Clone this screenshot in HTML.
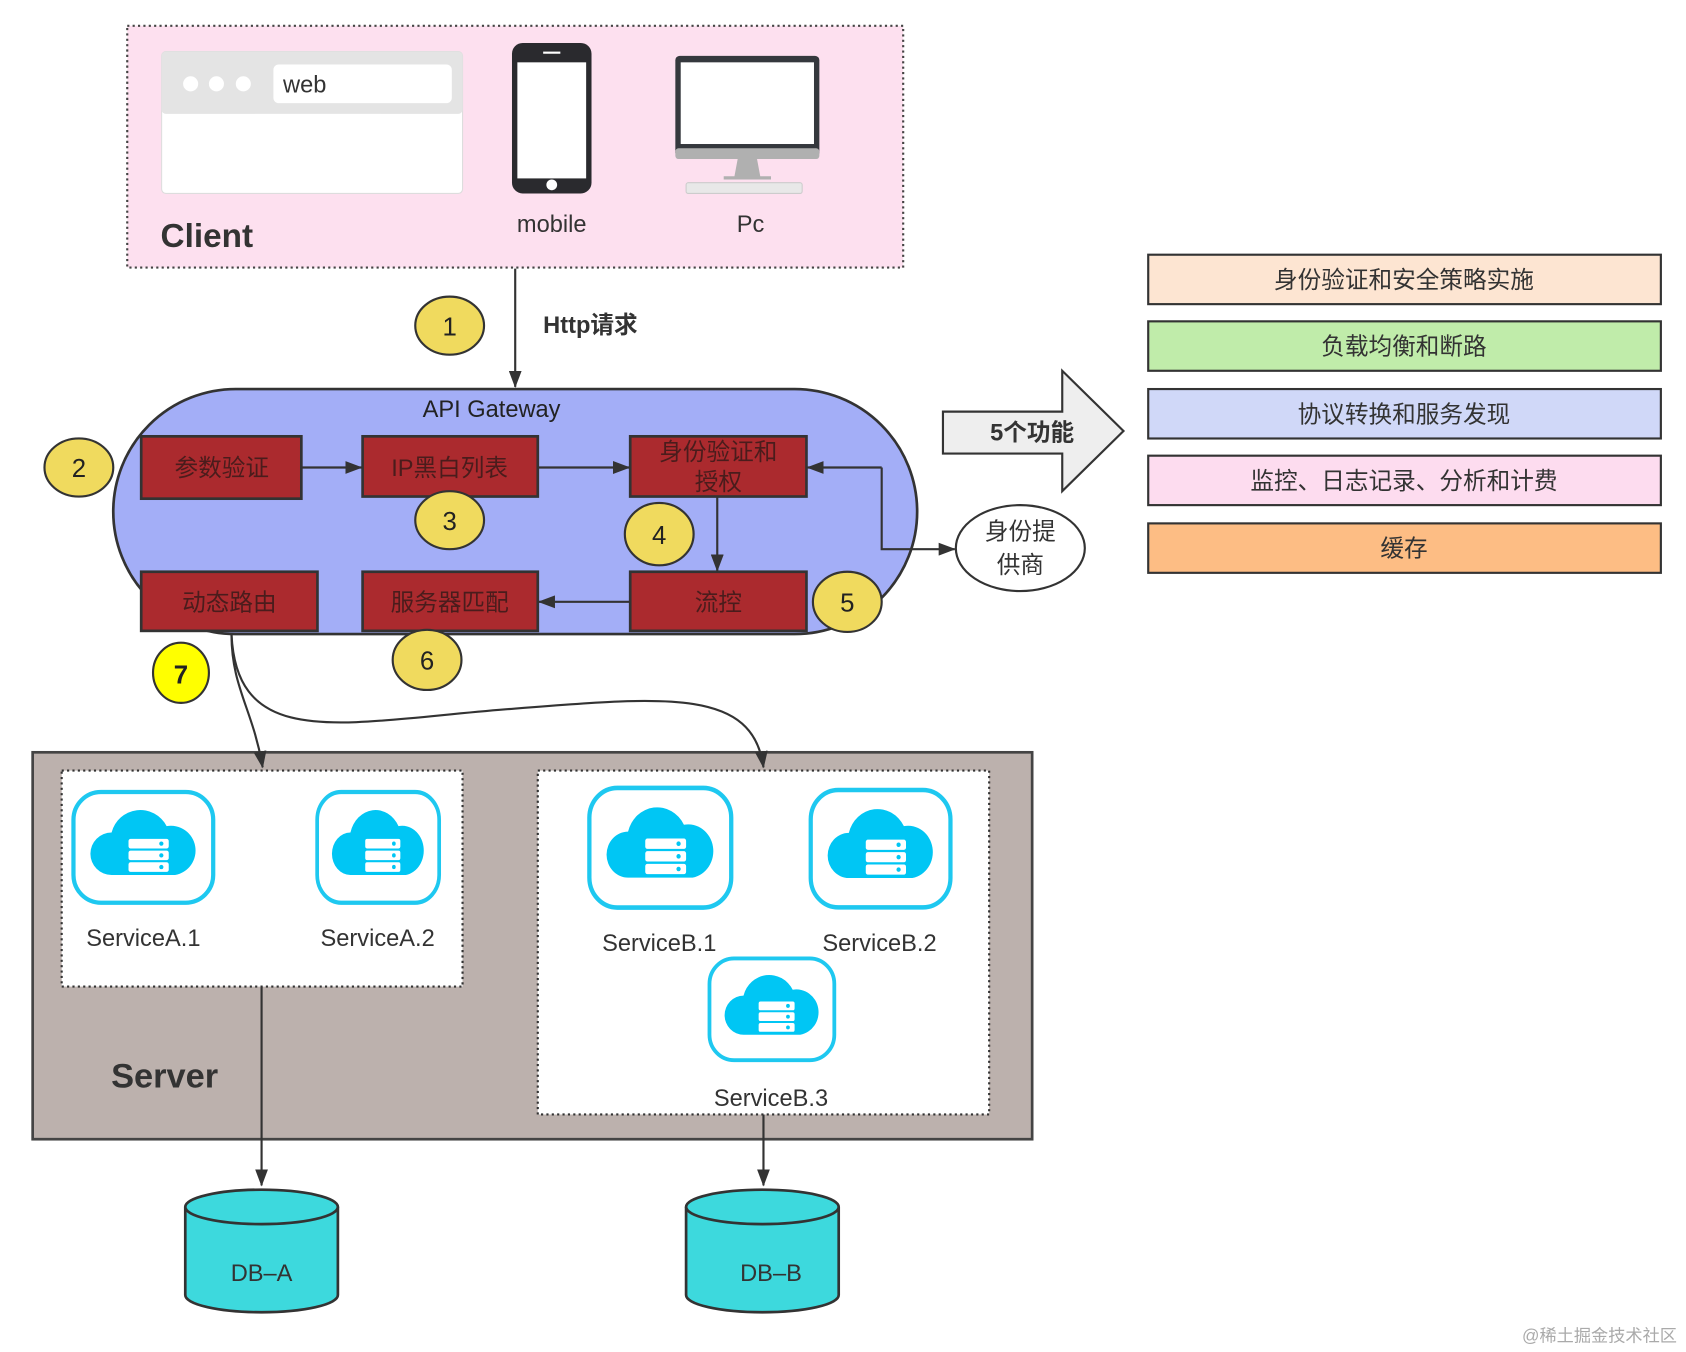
<!DOCTYPE html>
<html><head><meta charset="utf-8"><style>
html,body{margin:0;padding:0;background:#fff;}
svg{display:block;}
text{font-family:"Liberation Sans","Noto Sans CJK SC",sans-serif;}
</style></head><body>
<svg width="1686" height="1352" viewBox="0 0 1568 1258" xmlns="http://www.w3.org/2000/svg">
<defs>
<marker id="ah" markerWidth="16" markerHeight="12" refX="15" refY="6" orient="auto" markerUnits="userSpaceOnUse">
<path d="M0,0 L16,6 L0,12 Z" fill="#333"/></marker>
<g id="svc">
<rect x="2" y="2" width="132" height="104" rx="26" fill="#fff" stroke="#1ec8f0" stroke-width="4"/>
<path d="M38,80 a20,20 0 0 1 0,-40 a28,28 0 0 1 52,-6 a22,22 0 0 1 8,46 Z" fill="#00c6f4"/>
<g fill="#fff"><rect x="54" y="46" width="38" height="9" rx="2"/><rect x="54" y="57" width="38" height="9" rx="2"/><rect x="54" y="68" width="38" height="9" rx="2"/></g>
<g fill="#00c6f4"><circle cx="85" cy="50.5" r="2"/><circle cx="85" cy="61.5" r="2"/><circle cx="85" cy="72.5" r="2"/></g>
</g>
</defs>

<!-- Client -->
<rect x="118" y="24" width="722" height="225" fill="#fde0ef" stroke="#444" stroke-width="2" stroke-dasharray="2,3"/>
<rect x="150" y="48" width="280" height="132" rx="4" fill="#fff" stroke="#ddd"/>
<rect x="150" y="48" width="280" height="58" rx="4" fill="#e4e4e4"/>
<circle cx="177" cy="78" r="7" fill="#fff"/><circle cx="201" cy="78" r="7" fill="#fff"/><circle cx="226" cy="78" r="7" fill="#fff"/>
<rect x="254" y="60" width="166" height="36" rx="5" fill="#fff"/>
<text x="263" y="86" font-size="22" fill="#333">web</text>
<rect x="476" y="40" width="74" height="140" rx="10" fill="#2a2a2e"/>
<rect x="481" y="58" width="64" height="108" fill="#fff"/>
<circle cx="513" cy="172" r="5" fill="#fff"/>
<rect x="505" y="48" width="16" height="2" fill="#fff"/>
<text x="513" y="216" font-size="22" fill="#333" text-anchor="middle">mobile</text>
<rect x="628" y="52" width="134" height="94" rx="4" fill="#35383d"/>
<rect x="633" y="58" width="124" height="76" fill="#fff"/>
<rect x="628" y="138" width="134" height="10" rx="3" fill="#b0b0b0"/>
<path d="M686,148 h18 l3,16 h10 v3 h-44 v-3 h10 Z" fill="#b0b0b0"/>
<rect x="638" y="170" width="108" height="10" rx="2" fill="#e8e8e8" stroke="#ccc"/>
<text x="698" y="216" font-size="22" fill="#333" text-anchor="middle">Pc</text>
<text x="149" y="230" font-size="31" font-weight="bold" fill="#333">Client</text>

<!-- http -->
<line x1="479" y1="250" x2="479" y2="360" stroke="#333" stroke-width="2" marker-end="url(#ah)"/>
<text x="505" y="310" font-size="22" font-weight="bold" fill="#333">Http请求</text>

<!-- gateway -->
<rect x="105" y="362" width="748" height="228" rx="114" fill="#a3aef7" stroke="#333" stroke-width="2.5"/>
<text x="457" y="388" font-size="22" fill="#222" text-anchor="middle">API Gateway</text>
<g fill="#ab2a2e" stroke="#333" stroke-width="2.5">
<rect x="131" y="406" width="149" height="58"/>
<rect x="337" y="406" width="163" height="56"/>
<rect x="586" y="406" width="164" height="56"/>
<rect x="131" y="532" width="164" height="55"/>
<rect x="337" y="532" width="163" height="55"/>
<rect x="586" y="532" width="164" height="55"/>
</g>
<g font-size="22" fill="#4a1c1c" text-anchor="middle">
<text x="206" y="443">参数验证</text>
<text x="418" y="443">IP黑白列表</text>
<text x="668" y="428">身份验证和</text>
<text x="668" y="456">授权</text>
<text x="213" y="568">动态路由</text>
<text x="418" y="568">服务器匹配</text>
<text x="668" y="568">流控</text>
</g>
<g stroke="#333" stroke-width="2" fill="none">
<line x1="280" y1="435" x2="336" y2="435" marker-end="url(#ah)"/>
<line x1="500" y1="435" x2="585" y2="435" marker-end="url(#ah)"/>
<line x1="667" y1="462" x2="667" y2="531" marker-end="url(#ah)"/>
<line x1="586" y1="560" x2="501" y2="560" marker-end="url(#ah)"/>
<path d="M820,435 H751" marker-end="url(#ah)"/>
<path d="M820,435 V511 H888" marker-end="url(#ah)"/>
</g>
<ellipse cx="949" cy="510" rx="60" ry="40" fill="#fff" stroke="#333" stroke-width="2"/>
<text x="949" y="502" font-size="22" fill="#333" text-anchor="middle">身份提</text>
<text x="949" y="533" font-size="22" fill="#333" text-anchor="middle">供商</text>

<!-- circles -->
<g stroke="#333" stroke-width="2" fill="#f0da5e">
<ellipse cx="418" cy="303" rx="32" ry="27"/>
<ellipse cx="73" cy="435" rx="32" ry="27"/>
<ellipse cx="418" cy="484" rx="32" ry="27"/>
<ellipse cx="613" cy="497" rx="32" ry="29"/>
<ellipse cx="788" cy="560" rx="32" ry="28"/>
<ellipse cx="397" cy="614" rx="32" ry="28"/>
<ellipse cx="168" cy="626" rx="26" ry="28" fill="#ffff00"/>
</g>
<g font-size="24" fill="#222" text-anchor="middle">
<text x="418" y="312">1</text><text x="73" y="444">2</text><text x="418" y="493">3</text>
<text x="613" y="506">4</text><text x="788" y="569">5</text><text x="397" y="623">6</text>
<text x="168" y="636" font-weight="bold">7</text>
</g>

<!-- big arrow -->
<path d="M877,383 H988 V345 L1045,401 L988,457 V422 H877 Z" fill="#eeeeee" stroke="#333" stroke-width="2"/>
<text x="960" y="410" font-size="22" font-weight="bold" fill="#333" text-anchor="middle">5个功能</text>

<!-- feature bars -->
<g stroke="#333" stroke-width="2">
<rect x="1068" y="237" width="477" height="46" fill="#fde5d2"/>
<rect x="1068" y="299" width="477" height="46" fill="#c0ecaa"/>
<rect x="1068" y="362" width="477" height="46" fill="#d0d8f8"/>
<rect x="1068" y="424" width="477" height="46" fill="#fddcef"/>
<rect x="1068" y="487" width="477" height="46" fill="#fdbd84"/>
</g>
<g font-size="22" fill="#333" text-anchor="middle">
<text x="1306" y="268">身份验证和安全策略实施</text>
<text x="1306" y="330">负载均衡和断路</text>
<text x="1306" y="393">协议转换和服务发现</text>
<text x="1306" y="455">监控、日志记录、分析和计费</text>
<text x="1306" y="518">缓存</text>
</g>

<!-- server -->
<rect x="30" y="700" width="930" height="360" fill="#bcb1ad" stroke="#444" stroke-width="2.5"/>
<rect x="57" y="717" width="373" height="201" fill="#fff" stroke="#333" stroke-width="2" stroke-dasharray="2,3"/>
<rect x="500" y="717" width="420" height="320" fill="#fff" stroke="#333" stroke-width="2" stroke-dasharray="2,3"/>
<text x="103" y="1012" font-size="32" font-weight="bold" fill="#333">Server</text>
<use href="#svc" transform="translate(66,735) scale(0.985,0.99)"/>
<use href="#svc" transform="translate(293,735) scale(0.86,0.99)"/>
<use href="#svc" transform="translate(546,731) scale(1,1.07)"/>
<use href="#svc" transform="translate(752,733) scale(0.985,1.05)"/>
<use href="#svc" transform="translate(658,890) scale(0.88,0.91)"/>
<g font-size="22" fill="#333" text-anchor="middle">
<text x="133" y="880">ServiceA.1</text><text x="351" y="880">ServiceA.2</text>
<text x="613" y="885">ServiceB.1</text><text x="818" y="885">ServiceB.2</text>
<text x="717" y="1029">ServiceB.3</text>
</g>

<!-- connectors -->
<g stroke="#333" stroke-width="2" fill="none">
<path d="M215,590 C215,640 235,660 244,714" marker-end="url(#ah)"/>
<path d="M215,590 C220,700 320,672 470,660 C620,648 700,640 710,714" marker-end="url(#ah)"/>
<line x1="243" y1="918" x2="243" y2="1103" marker-end="url(#ah)"/>
<line x1="710" y1="1037" x2="710" y2="1103" marker-end="url(#ah)"/>
</g>

<!-- DBs -->
<g stroke="#333" stroke-width="2.5" fill="#3dd9dd">
<path d="M172,1123 V1205 A71,16 0 0 0 314,1205 V1123"/>
<ellipse cx="243" cy="1123" rx="71" ry="16"/>
<path d="M638,1123 V1205 A71,16 0 0 0 780,1205 V1123"/>
<ellipse cx="709" cy="1123" rx="71" ry="16"/>
</g>
<text x="243" y="1192" font-size="22" fill="#333" text-anchor="middle">DB–A</text>
<text x="717" y="1192" font-size="22" fill="#333" text-anchor="middle">DB–B</text>

<text x="1560" y="1248" font-size="16" fill="#aaa" text-anchor="end">@稀土掘金技术社区</text>
</svg>
</body></html>
